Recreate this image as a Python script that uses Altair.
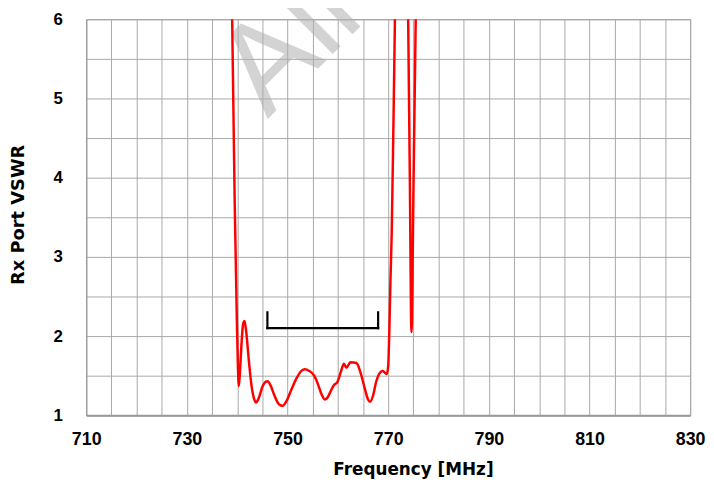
import altair as alt
import pandas as pd

# ---- data ----
freq = [738.3, 738.7, 739.0, 739.5, 739.9, 740.15, 740.33, 740.6, 740.9, 741.2,
        741.45, 741.8, 742.3, 742.9, 743.4, 743.75, 744.3, 745.0, 745.6, 746.05,
        746.6, 747.4, 748.3, 749.05, 749.8, 750.8, 751.8, 752.6, 753.4, 754.3,
        755.3, 756.0, 756.8, 757.4, 757.9, 758.4, 759.2, 759.9, 760.6, 761.2,
        761.7, 762.5, 763.7, 764.5, 765.3, 766.0, 766.4, 767.0, 767.6, 768.4,
        768.9, 769.7, 770.0, 770.2, 770.45, 770.7, 771.0, 771.34, 771.8, 772.6,
        773.5, 773.97, 774.3, 774.62, 775.05, 775.47, 775.9]
vswr = [9.0, 7.2, 6.0, 3.7, 2.3, 1.6, 1.37, 1.6, 1.95, 2.16,
        2.19, 2.05, 1.7, 1.35, 1.2, 1.16, 1.22, 1.36, 1.42, 1.43,
        1.38, 1.25, 1.14, 1.12, 1.18, 1.33, 1.47, 1.55, 1.58, 1.56,
        1.5, 1.4, 1.26, 1.2, 1.22, 1.28, 1.38, 1.42, 1.55, 1.65,
        1.6, 1.67, 1.66, 1.54, 1.35, 1.2, 1.17, 1.25, 1.42, 1.54,
        1.56, 1.52, 1.62, 2.0, 2.7, 3.3, 4.5, 6.0, 9.0, 11.0,
        8.5, 6.0, 4.0, 2.05, 4.0, 6.0, 8.0]

x_grid = list(range(710, 831, 5))
y_grid = [1, 1.5, 2, 2.5, 3, 3.5, 4, 4.5, 5, 5.5, 6]

band_start = [746, 746, 768]
band_end = [768, 746, 768]
band_low = [2.1, 2.1, 2.1]
band_high = [2.1, 2.3, 2.3]

watermark = "All"

x_title = "Frequency [MHz]"
y_title = "Rx Port VSWR"

FONT = "Liberation Sans"
TFONT = "DejaVu Sans"

curve = pd.DataFrame({"f": freq, "v": vswr})
band = pd.DataFrame({"f": band_start, "f2": band_end, "v": band_low, "v2": band_high})

xscale = alt.Scale(domain=[710, 830], nice=False, zero=False)
yscale = alt.Scale(domain=[1, 6], nice=False, zero=False)

x_axis = alt.Axis(
    values=x_grid,
    labelExpr="datum.value % 20 == 10 ? format(datum.value, 'd') : ''",
    title=x_title, ticks=False, labelPadding=16, labelFlush=False,
    labelOverlap=False, labelBound=False, labelFontSize=18,
    labelFont=FONT, labelFontWeight="bold", labelColor="black",
    titleFont=TFONT, titleFontWeight="bold", titleColor="black",
    titleFontSize=17, titleX=330, titleY=55, titleBaseline="middle",
    titleAlign="center",
    domainColor="#999999", domainWidth=2,
    gridColor="#a8a8a8", gridWidth=1, gridOpacity=1,
)
y_axis = alt.Axis(
    values=y_grid,
    labelExpr="datum.value % 1 == 0 ? format(datum.value, 'd') : ''",
    title=y_title, ticks=False, labelPadding=24, labelFlush=False,
    labelOverlap=False, labelBound=False, labelFontSize=17,
    labelFont=FONT, labelFontWeight="bold", labelColor="black",
    titleFont=TFONT, titleFontWeight="bold", titleColor="black",
    titleFontSize=18, titleX=-68, titleY=197, titleAngle=270,
    titleBaseline="middle", titleAlign="center",
    domainColor="#999999", domainWidth=1,
    gridColor="#a8a8a8", gridWidth=1, gridOpacity=1,
)

mark_wm = alt.Chart(pd.DataFrame({"t": [watermark]})).mark_text(
    font=FONT, fontSize=127, angle=315, align="left", baseline="alphabetic",
    color="#b0b0b0", opacity=0.55,
).encode(text="t:N", x=alt.value(183), y=alt.value(101))

line = alt.Chart(curve).mark_line(
    color="#ff0000", strokeWidth=2.5, interpolate="monotone", clip=True
).encode(
    x=alt.X("f:Q", scale=xscale, axis=x_axis),
    y=alt.Y("v:Q", scale=yscale, axis=y_axis),
)

bracket = alt.Chart(band).mark_rule(color="black", strokeWidth=2.2, strokeCap="square").encode(
    x=alt.X("f:Q", scale=xscale, axis=x_axis),
    x2="f2:Q",
    y=alt.Y("v:Q", scale=yscale, axis=y_axis),
    y2="v2:Q",
)

chart = alt.layer(mark_wm, line, bracket).properties(
    width=610, height=400,
    background="white",
    autosize=alt.AutoSizeParams(type="none"),
    padding={"left": 79, "top": 9, "right": 16, "bottom": 65},
).configure_view(
    stroke="#999999", strokeWidth=1
)

chart.save("out.html", embed_options={"renderer": "svg", "actions": False})
